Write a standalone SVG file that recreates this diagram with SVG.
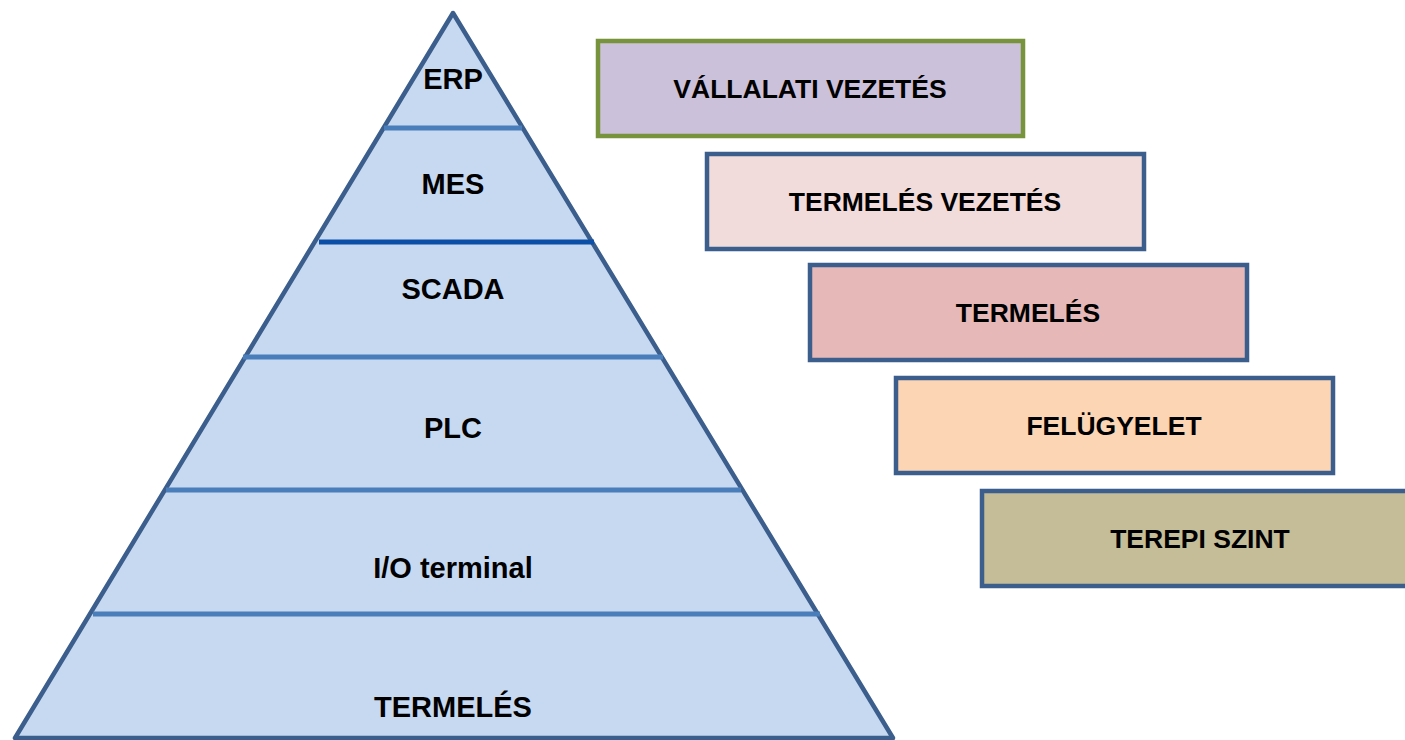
<svg xmlns="http://www.w3.org/2000/svg" width="1405" height="740" viewBox="0 0 1405 740">
  <style>
    .lbl { font-family: "Liberation Sans", Arial, sans-serif; font-weight: bold; font-size: 26.5px; fill: #000; text-anchor: middle; dominant-baseline: central; }
    .pl { font-size: 29px; }
    .tier { stroke: #4a7ebb; stroke-width: 5; }
    .box { stroke: #3b5e8c; stroke-width: 4.5; }
  </style>
  <rect width="1405" height="740" fill="#fff"/>

  <!-- automation pyramid -->
  <g id="pyramid">
    <polygon points="453,13 15,738 893,738" fill="#c6d9f1" stroke="#3b5e8c" stroke-width="4.5" stroke-linejoin="round"/>
    <line class="tier" x1="384" y1="128" x2="522" y2="128"/>
    <line x1="319" y1="242" x2="594" y2="242" stroke="#0b4fa6" stroke-width="5"/>
    <line class="tier" x1="243" y1="357" x2="663" y2="357"/>
    <line class="tier" x1="166" y1="490" x2="741" y2="490"/>
    <line class="tier" x1="93" y1="614" x2="820" y2="614"/>
  </g>
  <g id="level-erp"><text class="lbl pl" x="453" y="79">ERP</text></g>
  <g id="level-mes"><text class="lbl pl" x="453" y="184">MES</text></g>
  <g id="level-scada"><text class="lbl pl" x="453" y="289">SCADA</text></g>
  <g id="level-plc"><text class="lbl pl" x="453" y="428">PLC</text></g>
  <g id="level-io"><text class="lbl pl" x="453" y="568">I/O terminal</text></g>
  <g id="level-termeles"><text class="lbl pl" x="453" y="707">TERMELÉS</text></g>

  <!-- function levels -->
  <g id="box-vallalati">
    <rect x="598" y="41" width="425" height="95" fill="#ccc1da" stroke="#77933c" stroke-width="4.5"/>
    <text class="lbl" x="810" y="89">VÁLLALATI VEZETÉS</text>
  </g>
  <g id="box-termeles-vezetes">
    <rect class="box" x="707" y="154" width="437" height="95" fill="#f2dcdb"/>
    <text class="lbl" x="925" y="202">TERMELÉS VEZETÉS</text>
  </g>
  <g id="box-termeles">
    <rect class="box" x="810" y="265" width="437" height="95" fill="#e6b9b8"/>
    <text class="lbl" x="1028" y="313">TERMELÉS</text>
  </g>
  <g id="box-felugyelet">
    <rect class="box" x="896" y="378" width="437" height="95" fill="#fcd5b5"/>
    <text class="lbl" x="1114" y="426">FELÜGYELET</text>
  </g>
  <g id="box-terepi">
    <rect class="box" x="982" y="491" width="437" height="95" fill="#c4bd97"/>
    <text class="lbl" x="1200" y="539">TEREPI SZINT</text>
  </g>
</svg>
